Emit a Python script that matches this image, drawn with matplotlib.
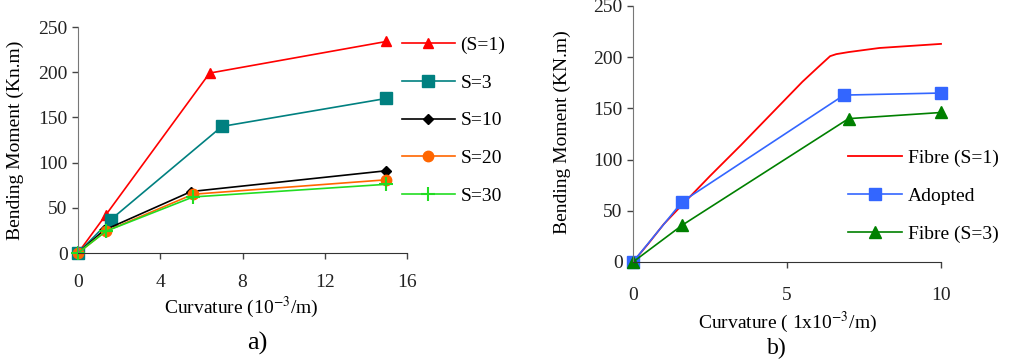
import matplotlib
matplotlib.use("Agg")
import matplotlib.pyplot as plt

plt.rcParams['font.family'] = ['Liberation Serif', 'DejaVu Serif']
plt.rcParams['mathtext.fontset'] = 'stix'

# ---- panel a) ----
s1_x = [0, 1.35, 6.4, 15]
s1_y = [0, 42, 199, 234]
s3_x = [0, 1.6, 7.0, 15]
s3_y = [0, 37, 140, 171]
s10_x = [0, 1.25, 5.5, 15]
s10_y = [0, 25, 68, 91]
s20_x = [0, 1.35, 5.6, 15]
s20_y = [0, 24, 65, 81]
s30_x = [0, 1.35, 5.6, 15]
s30_y = [0, 24, 62, 76]

# ---- panel b) ----
fib1_x = [0, 0.5, 1.0, 1.6, 2.5, 3.5, 4.5, 5.5, 6.0, 6.4, 6.6, 7.0, 7.5, 8.0, 8.5, 9.0, 9.5, 10.0]
fib1_y = [0, 18, 37, 56, 84, 114, 145, 176, 190, 201, 203, 205, 207, 209, 210, 211, 212, 213]
adopt_x = [0, 1.6, 6.85, 10]
adopt_y = [0, 59, 163, 165]
fib3_x = [0, 1.6, 7.0, 10]
fib3_y = [0, 36, 140, 146]

W, H = 1028, 359
FS = 14
fig = plt.figure(figsize=(W / 100, H / 100), dpi=100)


def style(ax):
    ax.spines['top'].set_visible(False)
    ax.spines['right'].set_visible(False)
    ax.spines['left'].set_color('#777777')
    ax.spines['bottom'].set_color('#333333')
    ax.tick_params(direction='out', length=4, width=1, colors='#444444',
                   labelsize=FS, labelcolor='#222222')


# left panel
ax1 = fig.add_axes([78 / W, 106 / H, 329 / W, 226 / H])
ax1.plot(s1_x, s1_y, color='#ff0000', marker='^', ms=7.5, lw=1.2, label='(S=1)', clip_on=False)
ax1.plot(s3_x, s3_y, color='#008080', marker='s', ms=8, lw=1.2, label='S=3', clip_on=False)
ax1.plot(s10_x, s10_y, color='#000000', marker='D', ms=5, lw=1.2, label='S=10', clip_on=False)
ax1.plot(s20_x, s20_y, color='#ff6600', marker='o', ms=7.5, lw=1.2, label='S=20', clip_on=False)
ax1.plot(s30_x, s30_y, color='#22dd22', marker='+', ms=10, mew=1.5, lw=1.2, label='S=30', clip_on=False)
ax1.set_xlim(0, 16)
ax1.set_ylim(0, 250)
ax1.set_xticks([0, 4, 8, 12, 16])
ax1.set_yticks([0, 50, 100, 150, 200, 250])
style(ax1)
ax1.tick_params(axis='x', pad=11)
ax1.set_xlabel('Curvature (10$^{-3}$/m)', fontsize=FS)
ax1.set_ylabel('Bending Moment (Kn.m)', fontsize=FS)
ax1.xaxis.set_label_coords(0.495, -0.185)
ax1.yaxis.set_label_coords(-0.165, 0.5)
ax1.legend(loc='upper left', bbox_to_anchor=(0.985, 0.958), frameon=False, fontsize=FS,
           handlelength=2.7, labelspacing=1.03, handletextpad=0.3,
           borderaxespad=0, borderpad=0)
fig.text(257 / W, 1 - 343 / H, 'a)', ha='center', va='center', fontsize=19)

# right panel
ax2 = fig.add_axes([633 / W, 97 / H, 308 / W, 256 / H])
ax2.plot(fib1_x, fib1_y, color='#ff0000', lw=1.3, label='Fibre (S=1)', clip_on=False)
ax2.plot(adopt_x, adopt_y, color='#3366ff', marker='s', ms=8.5, lw=1.2, label='Adopted', clip_on=False)
ax2.plot(fib3_x, fib3_y, color='#008000', marker='^', ms=9, lw=1.2, label='Fibre (S=3)', clip_on=False)
ax2.set_xlim(0, 10)
ax2.set_ylim(0, 250)
ax2.set_xticks([0, 5, 10])
ax2.set_yticks([0, 50, 100, 150, 200, 250])
style(ax2)
ax2.tick_params(axis='x', pad=14)
ax2.set_xlabel('Curvature ( 1x10$^{-3}$/m)', fontsize=FS)
ax2.set_ylabel('Bending Moment (KN.m)', fontsize=FS)
ax2.xaxis.set_label_coords(0.5, -0.185)
ax2.yaxis.set_label_coords(-0.2, 0.507)
ax2.legend(loc='upper left', bbox_to_anchor=(0.698, 0.44), frameon=False, fontsize=FS,
           handlelength=2.8, labelspacing=1.05, handletextpad=0.3,
           borderaxespad=0, borderpad=0)
fig.text(777 / W, 1 - 348 / H, 'b)', ha='center', va='center', fontsize=17)

fig.savefig('out.png', dpi=100)
